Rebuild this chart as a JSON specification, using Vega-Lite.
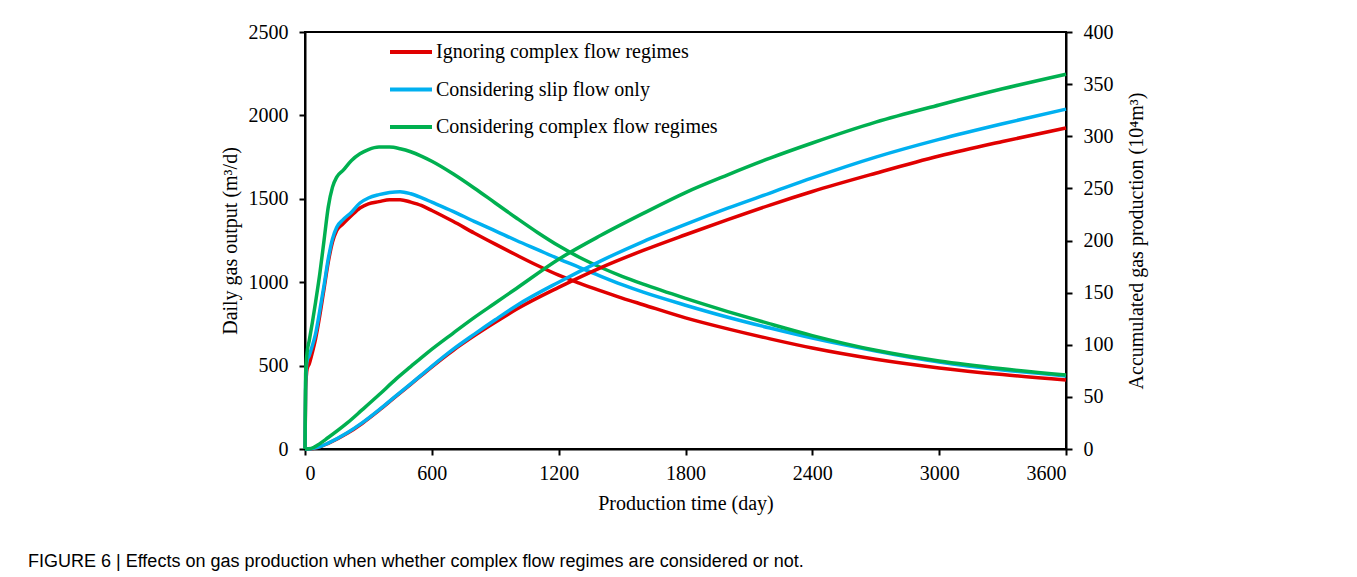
{
  "$schema": "https://vega.github.io/schema/vega-lite/v6.json",
  "width": 761,
  "height": 417,
  "autosize": {"type": "none"},
  "padding": {"left": 305, "top": 32, "right": 291, "bottom": 128},
  "background": "white",
  "title": {
    "text": "FIGURE 6 | Effects on gas production when whether complex flow regimes are considered or not.",
    "orient": "bottom",
    "anchor": "start",
    "frame": "group",
    "dx": -277,
    "offset": 40,
    "font": "Liberation Sans",
    "fontSize": 18,
    "fontWeight": "normal",
    "color": "black"
  },
  "datasets": {
    "daily": [
      {"t": 0, "s": "Ignoring complex flow regimes", "v": 0},
      {"t": 3, "s": "Ignoring complex flow regimes", "v": 350},
      {"t": 10, "s": "Ignoring complex flow regimes", "v": 480},
      {"t": 20, "s": "Ignoring complex flow regimes", "v": 510},
      {"t": 35, "s": "Ignoring complex flow regimes", "v": 580},
      {"t": 50, "s": "Ignoring complex flow regimes", "v": 660},
      {"t": 70, "s": "Ignoring complex flow regimes", "v": 800},
      {"t": 90, "s": "Ignoring complex flow regimes", "v": 960},
      {"t": 110, "s": "Ignoring complex flow regimes", "v": 1120},
      {"t": 130, "s": "Ignoring complex flow regimes", "v": 1240},
      {"t": 150, "s": "Ignoring complex flow regimes", "v": 1310},
      {"t": 180, "s": "Ignoring complex flow regimes", "v": 1350},
      {"t": 220, "s": "Ignoring complex flow regimes", "v": 1400},
      {"t": 260, "s": "Ignoring complex flow regimes", "v": 1445},
      {"t": 300, "s": "Ignoring complex flow regimes", "v": 1470},
      {"t": 350, "s": "Ignoring complex flow regimes", "v": 1483},
      {"t": 400, "s": "Ignoring complex flow regimes", "v": 1495},
      {"t": 450, "s": "Ignoring complex flow regimes", "v": 1495},
      {"t": 500, "s": "Ignoring complex flow regimes", "v": 1480},
      {"t": 550, "s": "Ignoring complex flow regimes", "v": 1460},
      {"t": 600, "s": "Ignoring complex flow regimes", "v": 1430},
      {"t": 700, "s": "Ignoring complex flow regimes", "v": 1365},
      {"t": 800, "s": "Ignoring complex flow regimes", "v": 1295},
      {"t": 900, "s": "Ignoring complex flow regimes", "v": 1228},
      {"t": 1000, "s": "Ignoring complex flow regimes", "v": 1163},
      {"t": 1100, "s": "Ignoring complex flow regimes", "v": 1100},
      {"t": 1200, "s": "Ignoring complex flow regimes", "v": 1042},
      {"t": 1300, "s": "Ignoring complex flow regimes", "v": 993},
      {"t": 1400, "s": "Ignoring complex flow regimes", "v": 948},
      {"t": 1500, "s": "Ignoring complex flow regimes", "v": 905},
      {"t": 1600, "s": "Ignoring complex flow regimes", "v": 865},
      {"t": 1800, "s": "Ignoring complex flow regimes", "v": 786},
      {"t": 2000, "s": "Ignoring complex flow regimes", "v": 720},
      {"t": 2200, "s": "Ignoring complex flow regimes", "v": 660},
      {"t": 2400, "s": "Ignoring complex flow regimes", "v": 605},
      {"t": 2700, "s": "Ignoring complex flow regimes", "v": 538},
      {"t": 3000, "s": "Ignoring complex flow regimes", "v": 486},
      {"t": 3300, "s": "Ignoring complex flow regimes", "v": 446},
      {"t": 3600, "s": "Ignoring complex flow regimes", "v": 414},
      {"t": 0, "s": "Considering slip flow only", "v": 0},
      {"t": 3, "s": "Considering slip flow only", "v": 400},
      {"t": 10, "s": "Considering slip flow only", "v": 530},
      {"t": 20, "s": "Considering slip flow only", "v": 560},
      {"t": 35, "s": "Considering slip flow only", "v": 620},
      {"t": 50, "s": "Considering slip flow only", "v": 690},
      {"t": 70, "s": "Considering slip flow only", "v": 830},
      {"t": 90, "s": "Considering slip flow only", "v": 980},
      {"t": 110, "s": "Considering slip flow only", "v": 1140},
      {"t": 130, "s": "Considering slip flow only", "v": 1260},
      {"t": 150, "s": "Considering slip flow only", "v": 1330},
      {"t": 180, "s": "Considering slip flow only", "v": 1375},
      {"t": 220, "s": "Considering slip flow only", "v": 1420},
      {"t": 260, "s": "Considering slip flow only", "v": 1475},
      {"t": 300, "s": "Considering slip flow only", "v": 1505},
      {"t": 350, "s": "Considering slip flow only", "v": 1525},
      {"t": 400, "s": "Considering slip flow only", "v": 1538},
      {"t": 450, "s": "Considering slip flow only", "v": 1543},
      {"t": 500, "s": "Considering slip flow only", "v": 1530},
      {"t": 550, "s": "Considering slip flow only", "v": 1507},
      {"t": 600, "s": "Considering slip flow only", "v": 1480},
      {"t": 700, "s": "Considering slip flow only", "v": 1425},
      {"t": 800, "s": "Considering slip flow only", "v": 1365},
      {"t": 900, "s": "Considering slip flow only", "v": 1308},
      {"t": 1000, "s": "Considering slip flow only", "v": 1250},
      {"t": 1100, "s": "Considering slip flow only", "v": 1195},
      {"t": 1200, "s": "Considering slip flow only", "v": 1140},
      {"t": 1300, "s": "Considering slip flow only", "v": 1088},
      {"t": 1400, "s": "Considering slip flow only", "v": 1035},
      {"t": 1500, "s": "Considering slip flow only", "v": 985},
      {"t": 1600, "s": "Considering slip flow only", "v": 940},
      {"t": 1800, "s": "Considering slip flow only", "v": 862},
      {"t": 2000, "s": "Considering slip flow only", "v": 790},
      {"t": 2200, "s": "Considering slip flow only", "v": 725},
      {"t": 2400, "s": "Considering slip flow only", "v": 665},
      {"t": 2700, "s": "Considering slip flow only", "v": 588},
      {"t": 3000, "s": "Considering slip flow only", "v": 522},
      {"t": 3300, "s": "Considering slip flow only", "v": 474},
      {"t": 3600, "s": "Considering slip flow only", "v": 438},
      {"t": 0, "s": "Considering complex flow regimes", "v": 0},
      {"t": 3, "s": "Considering complex flow regimes", "v": 450},
      {"t": 10, "s": "Considering complex flow regimes", "v": 580},
      {"t": 20, "s": "Considering complex flow regimes", "v": 650},
      {"t": 35, "s": "Considering complex flow regimes", "v": 760},
      {"t": 50, "s": "Considering complex flow regimes", "v": 880},
      {"t": 70, "s": "Considering complex flow regimes", "v": 1050},
      {"t": 90, "s": "Considering complex flow regimes", "v": 1250},
      {"t": 110, "s": "Considering complex flow regimes", "v": 1450},
      {"t": 130, "s": "Considering complex flow regimes", "v": 1570},
      {"t": 150, "s": "Considering complex flow regimes", "v": 1630},
      {"t": 180, "s": "Considering complex flow regimes", "v": 1670},
      {"t": 220, "s": "Considering complex flow regimes", "v": 1730},
      {"t": 260, "s": "Considering complex flow regimes", "v": 1770},
      {"t": 300, "s": "Considering complex flow regimes", "v": 1795},
      {"t": 350, "s": "Considering complex flow regimes", "v": 1810},
      {"t": 400, "s": "Considering complex flow regimes", "v": 1810},
      {"t": 450, "s": "Considering complex flow regimes", "v": 1800},
      {"t": 500, "s": "Considering complex flow regimes", "v": 1782},
      {"t": 550, "s": "Considering complex flow regimes", "v": 1756},
      {"t": 600, "s": "Considering complex flow regimes", "v": 1725},
      {"t": 700, "s": "Considering complex flow regimes", "v": 1650},
      {"t": 800, "s": "Considering complex flow regimes", "v": 1565},
      {"t": 900, "s": "Considering complex flow regimes", "v": 1475},
      {"t": 1000, "s": "Considering complex flow regimes", "v": 1385},
      {"t": 1100, "s": "Considering complex flow regimes", "v": 1298},
      {"t": 1200, "s": "Considering complex flow regimes", "v": 1218},
      {"t": 1300, "s": "Considering complex flow regimes", "v": 1148},
      {"t": 1400, "s": "Considering complex flow regimes", "v": 1088},
      {"t": 1500, "s": "Considering complex flow regimes", "v": 1035},
      {"t": 1600, "s": "Considering complex flow regimes", "v": 988},
      {"t": 1800, "s": "Considering complex flow regimes", "v": 903},
      {"t": 2000, "s": "Considering complex flow regimes", "v": 824},
      {"t": 2200, "s": "Considering complex flow regimes", "v": 750},
      {"t": 2400, "s": "Considering complex flow regimes", "v": 680},
      {"t": 2700, "s": "Considering complex flow regimes", "v": 592},
      {"t": 3000, "s": "Considering complex flow regimes", "v": 528},
      {"t": 3300, "s": "Considering complex flow regimes", "v": 481},
      {"t": 3600, "s": "Considering complex flow regimes", "v": 443}
    ],
    "cum": [
      {"t": 0, "s": "Ignoring complex flow regimes", "v": 0},
      {"t": 30, "s": "Ignoring complex flow regimes", "v": 0.3},
      {"t": 60, "s": "Ignoring complex flow regimes", "v": 1.5},
      {"t": 110, "s": "Ignoring complex flow regimes", "v": 5.4},
      {"t": 200, "s": "Ignoring complex flow regimes", "v": 15},
      {"t": 270, "s": "Ignoring complex flow regimes", "v": 24.5},
      {"t": 350, "s": "Ignoring complex flow regimes", "v": 37},
      {"t": 430, "s": "Ignoring complex flow regimes", "v": 50.5},
      {"t": 500, "s": "Ignoring complex flow regimes", "v": 62},
      {"t": 580, "s": "Ignoring complex flow regimes", "v": 75.5},
      {"t": 700, "s": "Ignoring complex flow regimes", "v": 94.5},
      {"t": 800, "s": "Ignoring complex flow regimes", "v": 108.5},
      {"t": 900, "s": "Ignoring complex flow regimes", "v": 121.5},
      {"t": 1000, "s": "Ignoring complex flow regimes", "v": 134},
      {"t": 1200, "s": "Ignoring complex flow regimes", "v": 155},
      {"t": 1400, "s": "Ignoring complex flow regimes", "v": 174},
      {"t": 1600, "s": "Ignoring complex flow regimes", "v": 190.5},
      {"t": 1800, "s": "Ignoring complex flow regimes", "v": 205.5},
      {"t": 2000, "s": "Ignoring complex flow regimes", "v": 220},
      {"t": 2200, "s": "Ignoring complex flow regimes", "v": 234},
      {"t": 2400, "s": "Ignoring complex flow regimes", "v": 247},
      {"t": 2700, "s": "Ignoring complex flow regimes", "v": 264.5},
      {"t": 3000, "s": "Ignoring complex flow regimes", "v": 281},
      {"t": 3300, "s": "Ignoring complex flow regimes", "v": 295},
      {"t": 3600, "s": "Ignoring complex flow regimes", "v": 308},
      {"t": 0, "s": "Considering slip flow only", "v": 0},
      {"t": 30, "s": "Considering slip flow only", "v": 0.3},
      {"t": 60, "s": "Considering slip flow only", "v": 1.5},
      {"t": 110, "s": "Considering slip flow only", "v": 5.6},
      {"t": 200, "s": "Considering slip flow only", "v": 15.5},
      {"t": 270, "s": "Considering slip flow only", "v": 25},
      {"t": 350, "s": "Considering slip flow only", "v": 37.5},
      {"t": 430, "s": "Considering slip flow only", "v": 51},
      {"t": 500, "s": "Considering slip flow only", "v": 62.5},
      {"t": 580, "s": "Considering slip flow only", "v": 76},
      {"t": 700, "s": "Considering slip flow only", "v": 95.5},
      {"t": 800, "s": "Considering slip flow only", "v": 110},
      {"t": 900, "s": "Considering slip flow only", "v": 124},
      {"t": 1000, "s": "Considering slip flow only", "v": 137.5},
      {"t": 1200, "s": "Considering slip flow only", "v": 160},
      {"t": 1400, "s": "Considering slip flow only", "v": 180.5},
      {"t": 1600, "s": "Considering slip flow only", "v": 199},
      {"t": 1800, "s": "Considering slip flow only", "v": 215.5},
      {"t": 2000, "s": "Considering slip flow only", "v": 231},
      {"t": 2200, "s": "Considering slip flow only", "v": 245.5},
      {"t": 2400, "s": "Considering slip flow only", "v": 260},
      {"t": 2700, "s": "Considering slip flow only", "v": 280},
      {"t": 3000, "s": "Considering slip flow only", "v": 297},
      {"t": 3300, "s": "Considering slip flow only", "v": 312},
      {"t": 3600, "s": "Considering slip flow only", "v": 326},
      {"t": 0, "s": "Considering complex flow regimes", "v": 0},
      {"t": 30, "s": "Considering complex flow regimes", "v": 0.6},
      {"t": 60, "s": "Considering complex flow regimes", "v": 3.8},
      {"t": 110, "s": "Considering complex flow regimes", "v": 11},
      {"t": 200, "s": "Considering complex flow regimes", "v": 25},
      {"t": 270, "s": "Considering complex flow regimes", "v": 37.5},
      {"t": 350, "s": "Considering complex flow regimes", "v": 52},
      {"t": 430, "s": "Considering complex flow regimes", "v": 67},
      {"t": 500, "s": "Considering complex flow regimes", "v": 79},
      {"t": 580, "s": "Considering complex flow regimes", "v": 92.5},
      {"t": 700, "s": "Considering complex flow regimes", "v": 111},
      {"t": 800, "s": "Considering complex flow regimes", "v": 126},
      {"t": 900, "s": "Considering complex flow regimes", "v": 140},
      {"t": 1000, "s": "Considering complex flow regimes", "v": 154},
      {"t": 1200, "s": "Considering complex flow regimes", "v": 182},
      {"t": 1400, "s": "Considering complex flow regimes", "v": 205},
      {"t": 1600, "s": "Considering complex flow regimes", "v": 226},
      {"t": 1800, "s": "Considering complex flow regimes", "v": 246},
      {"t": 2000, "s": "Considering complex flow regimes", "v": 263},
      {"t": 2200, "s": "Considering complex flow regimes", "v": 279},
      {"t": 2400, "s": "Considering complex flow regimes", "v": 293.5},
      {"t": 2700, "s": "Considering complex flow regimes", "v": 313.5},
      {"t": 3000, "s": "Considering complex flow regimes", "v": 330},
      {"t": 3300, "s": "Considering complex flow regimes", "v": 345.5},
      {"t": 3600, "s": "Considering complex flow regimes", "v": 359.5}
    ]
  },
  "config": {
    "view": {"stroke": "black", "strokeWidth": 2},
    "font": "Liberation Serif",
    "axis": {
      "domainColor": "black",
      "domainWidth": 2,
      "tickColor": "black",
      "tickWidth": 2,
      "tickSize": 6,
      "grid": false,
      "format": "d",
      "labelFont": "Liberation Serif",
      "labelFontSize": 20,
      "labelColor": "black",
      "labelPadding": 11,
      "titleFont": "Liberation Serif",
      "titleFontSize": 20,
      "titleFontWeight": "normal",
      "titleColor": "black"
    },
    "legend": {
      "orient": "none",
      "legendX": 83,
      "legendY": -3,
      "title": null,
      "labelFont": "Liberation Serif",
      "labelFontSize": 20,
      "labelColor": "black",
      "labelLimit": 0,
      "symbolType": "stroke",
      "symbolSize": 1764,
      "symbolStrokeWidth": 4,
      "labelOffset": 2,
      "rowPadding": 4.5
    }
  },
  "layer": [
    {
      "data": {"name": "daily"},
      "mark": {"type": "line", "strokeWidth": 3.5, "interpolate": "monotone"},
      "encoding": {
        "x": {
          "field": "t",
          "type": "quantitative",
          "scale": {"domain": [0, 3600], "nice": false},
          "axis": {"values": [0, 600, 1200, 1800, 2400, 3000, 3600], "format": "d", "title": "Production time (day)", "labelPadding": 8, "titlePadding": 10}
        },
        "y": {
          "field": "v",
          "type": "quantitative",
          "scale": {"domain": [0, 2500], "nice": false},
          "axis": {"values": [0, 500, 1000, 1500, 2000, 2500], "format": "d", "title": "Daily gas output (m³/d)", "titlePadding": 8}
        },
        "color": {
          "field": "s",
          "type": "nominal",
          "scale": {
            "domain": ["Ignoring complex flow regimes", "Considering slip flow only", "Considering complex flow regimes"],
            "range": ["#E00000", "#00B0F0", "#00B050"]
          }
        }
      }
    },
    {
      "data": {"name": "cum"},
      "mark": {"type": "line", "strokeWidth": 3.5, "interpolate": "monotone"},
      "encoding": {
        "x": {"field": "t", "type": "quantitative"},
        "y": {
          "field": "v",
          "type": "quantitative",
          "scale": {"domain": [0, 400], "nice": false},
          "axis": {"orient": "right", "values": [0, 50, 100, 150, 200, 250, 300, 350, 400], "format": "d", "title": "Accumulated gas production (10⁴m³)", "titleAngle": 270, "titlePadding": 33}
        },
        "color": {
          "field": "s",
          "type": "nominal",
          "scale": {
            "domain": ["Ignoring complex flow regimes", "Considering slip flow only", "Considering complex flow regimes"],
            "range": ["#E00000", "#00B0F0", "#00B050"]
          }
        }
      }
    }
  ],
  "resolve": {"scale": {"y": "independent"}}
}
